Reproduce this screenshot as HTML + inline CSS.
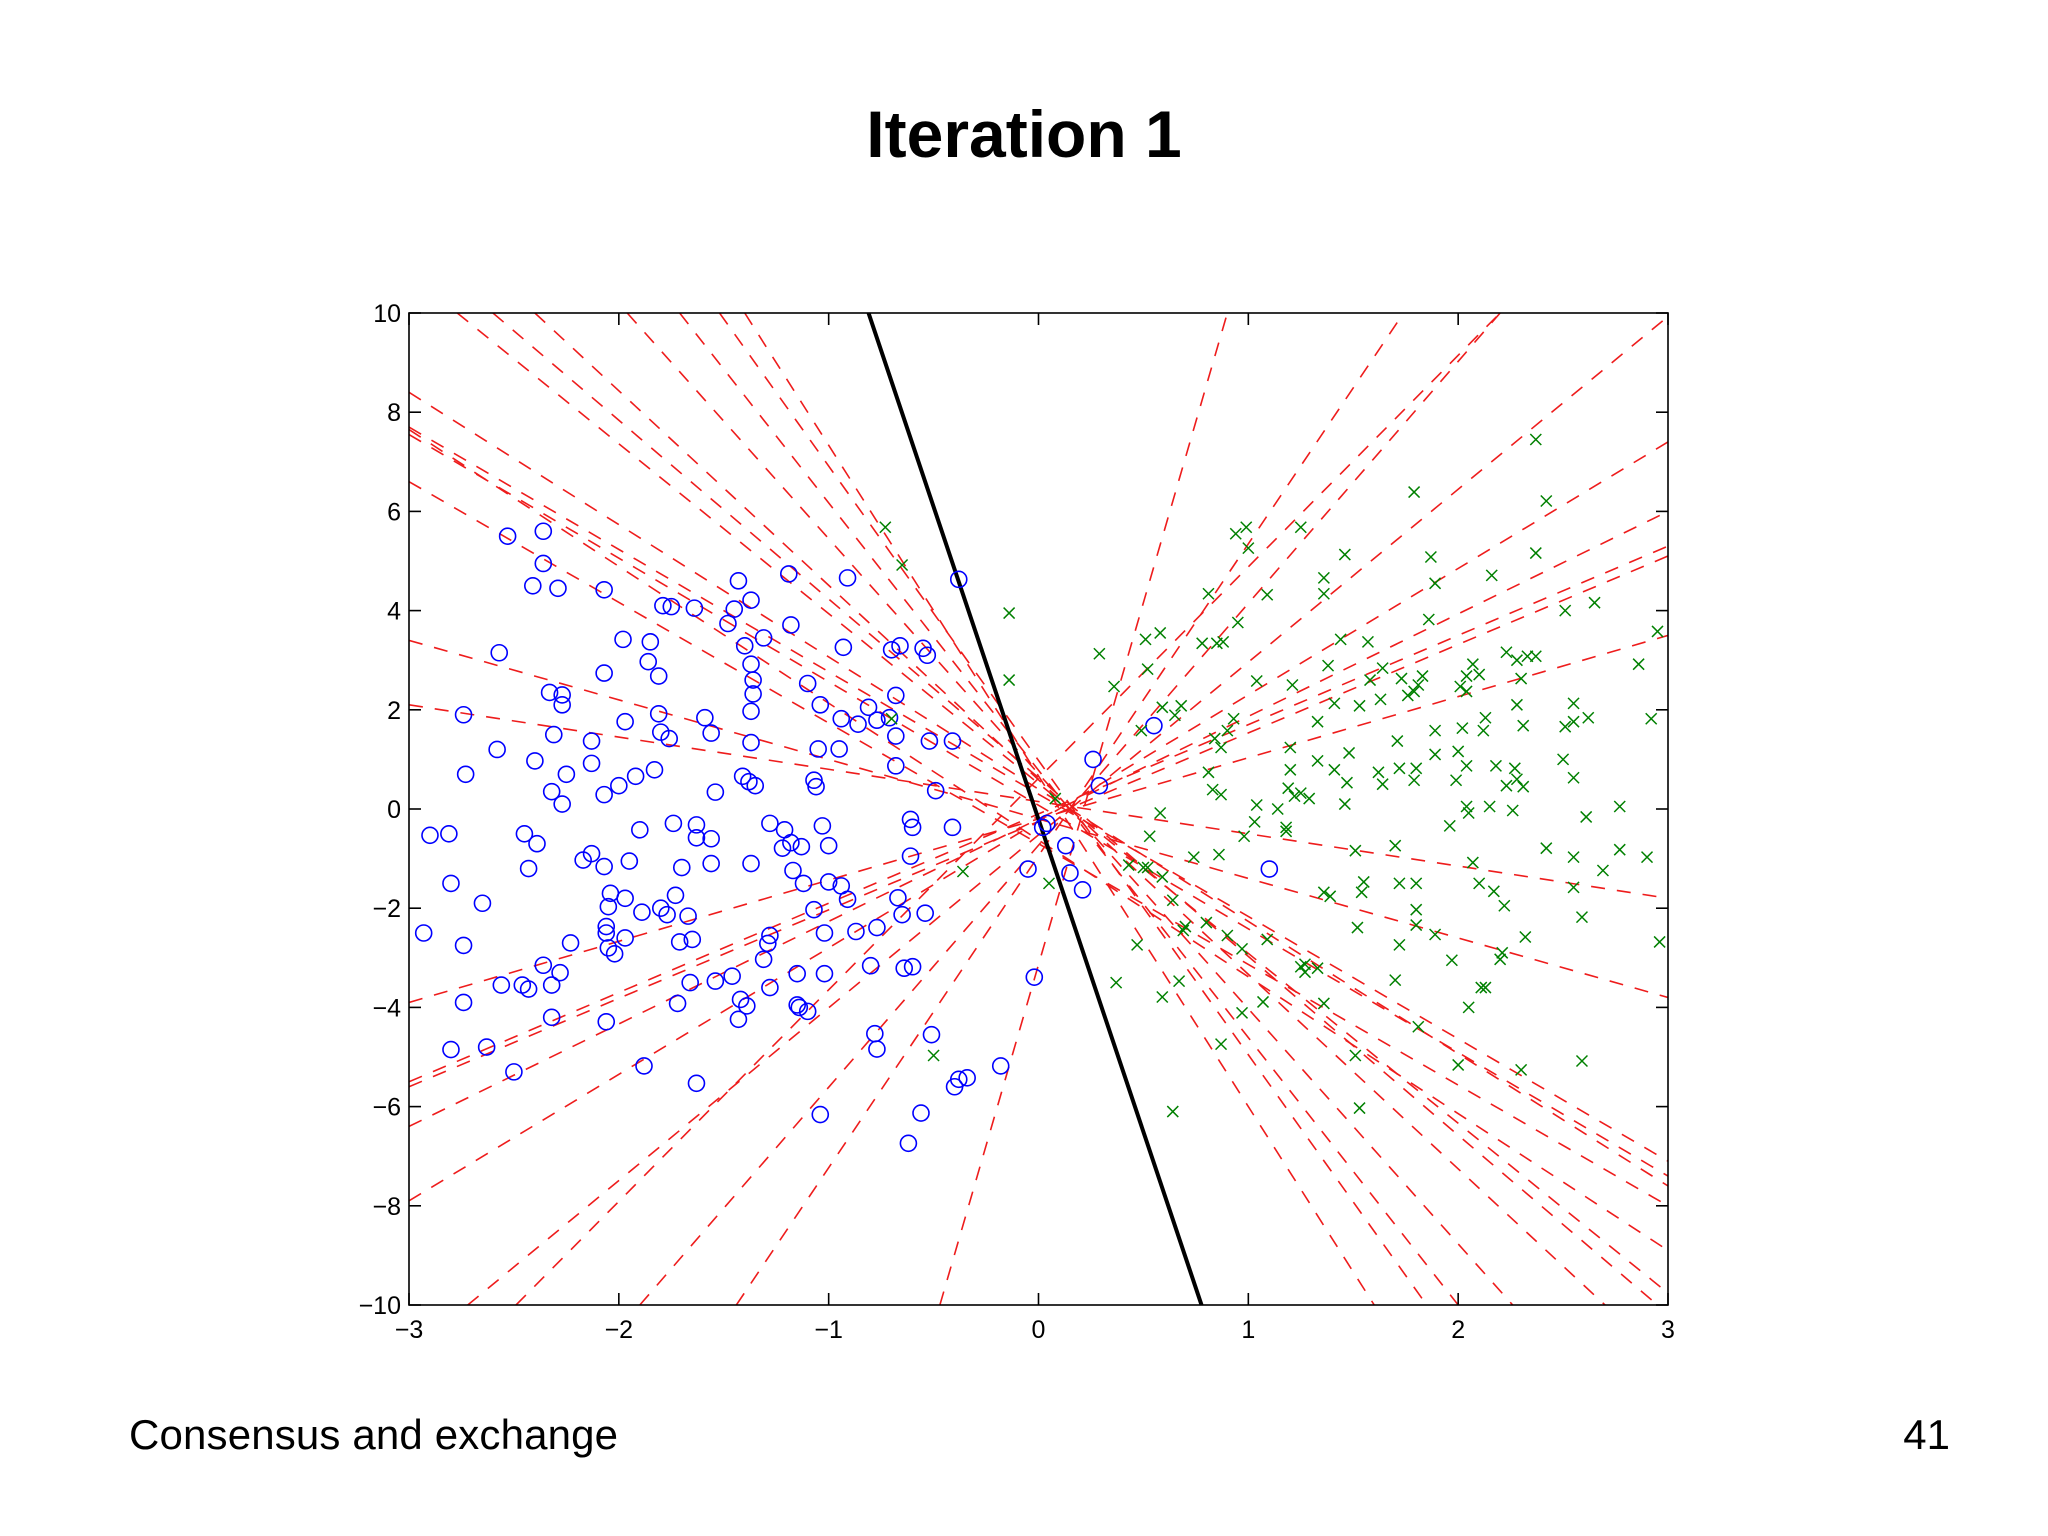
<!DOCTYPE html>
<html><head><meta charset="utf-8">
<style>
html,body{margin:0;padding:0;background:#fff;}
svg{display:block;}
text{font-family:"Liberation Sans",sans-serif;}
</style></head>
<body>
<svg id="chart" width="2048" height="1536" viewBox="0 0 2048 1536" xmlns="http://www.w3.org/2000/svg">
<text x="1024" y="157" text-anchor="middle" font-size="66" font-weight="bold">Iteration 1</text>
<text x="129" y="1449" font-size="42" textLength="489">Consensus and exchange</text>
<text x="1950" y="1449" font-size="42" text-anchor="end">41</text>
<defs><clipPath id="clip"><rect x="409" y="313" width="1259" height="992"/></clipPath></defs>
<g id="lines" clip-path="url(#clip)"></g>
<g id="marks"></g>
<g id="axes"></g>
</svg>
<script>
const xTicks=[-3,-2,-1,0,1,2,3];
const yTicks=[-10,-8,-6,-4,-2,0,2,4,6,8,10];
const circleX=[-2.53,-2.36,-2.36,-2.41,-2.29,-2.57,-2.33,-2.27,-2.27,-2.74,-2.58,-2.4,-2.31,-2.25,-2.73,-2.32,-2.27,-2.9,-2.81,-2.45,-2.39,-2.43,-2.8,-2.65,-2.93,-2.74,-2.74,-2.56,-2.46,-2.43,-2.36,-2.32,-2.28,-2.32,-2.8,-2.63,-2.5,-2.23,-2.17,-2.13,-2.13,-2.13,-2.07,-2.07,-2.07,-1.98,-1.97,-2.0,-2.07,-2.04,-2.05,-2.06,-2.06,-2.05,-2.02,-1.97,-1.97,-1.95,-1.9,-2.06,-1.88,-1.85,-1.86,-1.81,-1.81,-1.8,-1.76,-1.92,-1.83,-1.79,-1.75,-1.89,-1.8,-1.77,-1.73,-1.74,-1.7,-1.71,-1.72,-1.66,-1.65,-1.63,-1.63,-1.67,-1.64,-1.59,-1.56,-1.56,-1.56,-1.63,-1.54,-1.54,-1.48,-1.45,-1.43,-1.4,-1.37,-1.36,-1.36,-1.37,-1.37,-1.41,-1.38,-1.35,-1.31,-1.37,-1.46,-1.42,-1.39,-1.43,-1.37,-1.28,-1.21,-1.22,-1.18,-1.13,-1.17,-1.12,-1.28,-1.29,-1.31,-1.28,-1.19,-1.18,-1.1,-1.04,-1.05,-1.07,-1.06,-0.95,-0.94,-1.03,-1.0,-1.0,-0.94,-0.91,-1.07,-1.02,-1.15,-1.02,-1.15,-1.14,-1.1,-1.04,-0.93,-0.91,-0.86,-0.81,-0.77,-0.71,-0.7,-0.66,-0.68,-0.68,-0.68,-0.87,-0.8,-0.77,-0.78,-0.77,-0.67,-0.65,-0.64,-0.6,-0.61,-0.6,-0.61,-0.55,-0.53,-0.52,-0.54,-0.51,-0.56,-0.62,-0.49,-0.41,-0.41,-0.38,-0.4,-0.38,-0.34,-0.18,-0.05,-0.02,0.02,0.04,0.13,0.15,0.21,0.26,0.29,0.55,1.1];
const circleY=[5.5,5.6,4.95,4.5,4.45,3.15,2.35,2.3,2.1,1.9,1.2,0.97,1.5,0.7,0.7,0.35,0.1,-0.53,-0.5,-0.5,-0.7,-1.2,-1.5,-1.9,-2.5,-2.75,-3.9,-3.55,-3.55,-3.63,-3.15,-3.55,-3.3,-4.2,-4.85,-4.8,-5.3,-2.7,-1.03,-0.9,1.37,0.92,0.29,2.74,4.42,3.42,1.76,0.47,-1.16,-1.7,-1.97,-2.37,-2.5,-2.8,-2.92,-2.6,-1.8,-1.05,-0.42,-4.29,-5.18,3.37,2.97,2.68,1.92,1.55,1.42,0.66,0.79,4.1,4.08,-2.08,-2.0,-2.13,-1.74,-0.29,-1.18,-2.68,-3.92,-3.5,-2.63,-0.32,-0.58,-2.16,4.05,1.84,1.53,-0.6,-1.1,-5.53,-3.47,0.34,3.74,4.03,4.6,3.29,2.92,2.6,2.32,1.97,1.34,0.66,0.55,0.47,3.45,4.21,-3.37,-3.84,-3.97,-4.24,-1.1,-0.29,-0.42,-0.79,-0.68,-0.76,-1.24,-1.5,-2.55,-2.71,-3.03,-3.6,4.74,3.71,2.53,2.1,1.21,0.58,0.45,1.21,1.82,-0.34,-0.74,-1.47,-1.55,-1.82,-2.03,-2.5,-3.32,-3.32,-3.95,-4.0,-4.08,-6.16,3.26,4.66,1.71,2.05,1.79,1.84,3.21,3.29,2.29,1.47,0.87,-2.47,-3.16,-2.39,-4.53,-4.84,-1.79,-2.13,-3.21,-3.18,-0.21,-0.37,-0.95,3.24,3.1,1.37,-2.1,-4.55,-6.13,-6.74,0.37,1.37,-0.37,4.63,-5.6,-5.45,-5.42,-5.18,-1.21,-3.39,-0.37,-0.29,-0.74,-1.29,-1.63,1.0,0.47,1.68,-1.21];
const crossX=[-0.73,-0.65,-0.7,-0.36,-0.5,-0.14,-0.14,0.05,0.08,0.29,0.36,0.51,0.58,0.52,0.59,0.65,0.68,0.49,0.58,0.53,0.43,0.52,0.59,0.64,0.5,0.69,0.7,0.47,0.59,0.67,0.37,0.64,0.74,0.81,0.78,0.85,0.88,0.94,0.99,1.0,0.95,0.84,0.87,0.9,0.93,0.81,0.83,0.87,0.86,0.8,0.9,0.97,0.87,0.97,1.04,1.03,0.98,1.04,1.09,1.25,1.21,1.2,1.2,1.19,1.14,1.22,1.25,1.18,1.18,1.09,1.07,1.25,1.27,1.27,1.33,1.36,1.39,1.36,1.29,1.33,1.33,1.36,1.36,1.38,1.41,1.41,1.44,1.46,1.47,1.46,1.48,1.53,1.51,1.52,1.51,1.53,1.54,1.55,1.58,1.57,1.62,1.64,1.64,1.63,1.71,1.72,1.7,1.72,1.72,1.7,1.73,1.76,1.79,1.79,1.79,1.81,1.8,1.83,1.8,1.8,1.8,1.81,1.87,1.89,1.86,1.89,1.89,1.89,1.97,1.96,1.99,2.02,2.01,2.04,2.04,2.05,2.07,2.1,2.0,2.04,2.04,2.05,2.07,2.1,2.11,2.13,2.0,2.16,2.13,2.12,2.18,2.15,2.17,2.2,2.22,2.21,2.23,2.28,2.3,2.28,2.31,2.27,2.23,2.26,2.28,2.31,2.3,2.33,2.37,2.37,2.37,2.32,2.42,2.51,2.55,2.55,2.51,2.5,2.55,2.55,2.55,2.59,2.61,2.62,2.65,2.69,2.59,2.77,2.77,2.86,2.9,2.92,2.95,2.96,2.42];
const crossY=[5.68,4.92,1.82,-1.26,-4.97,3.95,2.6,-1.5,0.21,3.13,2.47,3.42,3.55,2.82,2.05,1.89,2.08,1.58,-0.08,-0.55,-1.13,-1.18,-1.37,-1.84,-1.18,-2.45,-2.37,-2.74,-3.79,-3.47,-3.5,-6.1,-0.97,4.34,3.34,3.34,3.37,5.55,5.68,5.26,3.76,1.42,1.24,1.58,1.82,0.74,0.39,0.29,-0.92,-2.29,-2.55,-2.82,-4.74,-4.11,0.08,-0.26,-0.55,2.58,4.32,5.68,2.5,1.24,0.79,0.42,0.0,0.26,0.32,-0.37,-0.45,-2.63,-3.89,-3.18,-3.13,-3.29,-3.21,-3.92,-1.76,-1.68,0.21,0.97,1.76,4.66,4.34,2.89,2.13,0.79,3.42,5.13,0.53,0.1,1.13,2.08,-0.84,-2.39,-4.97,-6.03,-1.68,-1.47,2.6,3.37,0.74,0.5,2.84,2.21,1.37,0.82,-0.74,-1.5,-2.74,-3.45,2.63,2.29,2.37,6.39,0.58,2.5,0.82,2.68,-1.5,-2.03,-2.34,-4.39,5.08,4.55,3.82,1.58,1.1,-2.53,-3.05,-0.34,0.58,1.63,2.47,2.68,2.37,-4.0,2.92,2.71,1.16,0.87,0.05,-0.08,-1.08,-1.5,-3.6,-3.6,-5.16,4.71,1.84,1.58,0.87,0.05,-1.66,-3.03,-1.95,-2.9,3.16,3.0,2.63,2.1,1.68,0.82,0.47,-0.03,0.6,0.45,-5.26,3.08,7.45,5.16,3.08,-2.58,6.21,4.0,2.13,1.76,1.66,1.0,0.63,-0.97,-1.58,-2.18,-0.16,1.84,4.16,-1.24,-5.08,0.05,-0.82,2.92,-0.97,1.82,3.58,-2.68,-0.79];
const lineX0=[-3,-3,-3,-3,-3,-3,-3,-3,-3,-3,-2.77,-2.6,-2.4,-1.96,-1.71,-1.52,-1.4,-2.72,-2.49,-0.47,-1.44,-1.9,-3,-3];
const lineY0=[8.4,7.7,7.55,6.6,3.4,2.1,-3.9,-5.6,-6.4,-7.9,10,10,10,10,10,10,10,-10,-10,-10,-10,-10,7.65,-5.5];
const lineX1=[3,3,3,3,3,3,3,3,3,3,3.07,2.95,2.7,2.26,2.0,1.85,1.6,3.02,2.2,0.9,1.74,2.2,3,3];
const lineY1=[-7.6,-7.1,-7.4,-8.0,-3.8,-1.8,3.5,5.1,6.0,7.4,-10,-10,-10,-10,-10,-10,-10,10,10,10,10,10,-8.9,5.3];
const boundaryX=[-0.81,0.777];
const boundaryY=[10,-10];

const L=409,R=1668,T=313,B=1305;
const xmin=-3,xmax=3,ymin=-10,ymax=10;
function sx(v){return L+(v-xmin)/(xmax-xmin)*(R-L);}
function sy(v){return B-(v-ymin)/(ymax-ymin)*(B-T);}
const NS="http://www.w3.org/2000/svg";
function mk(tag,attrs,parent){const e=document.createElementNS(NS,tag);for(const k in attrs)e.setAttribute(k,attrs[k]);parent.appendChild(e);return e;}
const gl=document.getElementById('lines'),gm=document.getElementById('marks'),ga=document.getElementById('axes');

for(let i=0;i<lineX0.length;i++){
  const l=mk('line',{x1:sx(lineX0[i]),y1:sy(lineY0[i]),x2:sx(lineX1[i]),y2:sy(lineY1[i]),stroke:'#ee1c1c','stroke-width':1.6,'stroke-dasharray':'14,12',fill:'none'},gl);
  
  
}
for(let i=0;i<circleX.length;i++){
  const c=mk('circle',{cx:sx(circleX[i]),cy:sy(circleY[i]),r:8,fill:'none',stroke:'#0000ff','stroke-width':1.6},gm);
  
  
}
for(let i=0;i<crossX.length;i++){
  const x=sx(crossX[i]),y=sy(crossY[i]),d=5.5;
  const p=mk('path',{d:`M${x-d},${y-d}L${x+d},${y+d}M${x-d},${y+d}L${x+d},${y-d}`,stroke:'#008000','stroke-width':1.5,fill:'none'},gm);
  
  
}
const bl=mk('line',{x1:sx(boundaryX[0]),y1:sy(boundaryY[0]),x2:sx(boundaryX[1]),y2:sy(boundaryY[1]),stroke:'#000','stroke-width':4},gl);



const fr=mk('rect',{x:L,y:T,width:R-L,height:B-T,fill:'none',stroke:'#000','stroke-width':1.6},ga);


const tl=12;
xTicks.forEach(v=>{
  const x=sx(v);
  mk('line',{x1:x,y1:B,x2:x,y2:B-tl,stroke:'#000','stroke-width':1.6},ga);
  mk('line',{x1:x,y1:T,x2:x,y2:T+tl,stroke:'#000','stroke-width':1.6},ga);
  const t=mk('text',{x:x,y:B+33,'text-anchor':'middle','font-size':25},ga);
  t.textContent=(v<0?'\u2212'+(-v):String(v));
  
  
});
yTicks.forEach(v=>{
  const y=sy(v);
  mk('line',{x1:L,y1:y,x2:L+tl,y2:y,stroke:'#000','stroke-width':1.6},ga);
  mk('line',{x1:R,y1:y,x2:R-tl,y2:y,stroke:'#000','stroke-width':1.6},ga);
  const t=mk('text',{x:L-8,y:y+9,'text-anchor':'end','font-size':25},ga);
  t.textContent=(v<0?'\u2212'+(-v):String(v));
  
  
});
</script>
</body></html>
